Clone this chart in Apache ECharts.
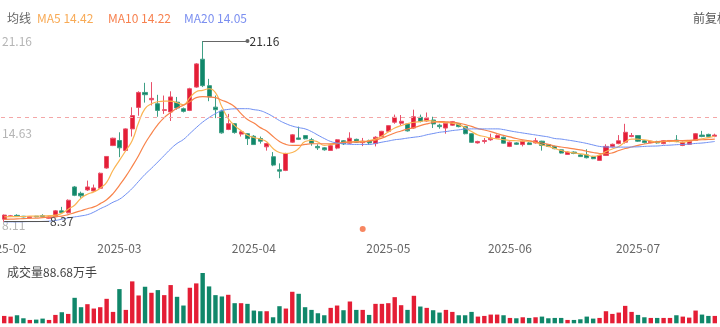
<!DOCTYPE html>
<html><head><meta charset="utf-8">
<script src="https://cdn.jsdelivr.net/npm/echarts@6/dist/echarts.min.js"></script>
<style>html,body{margin:0;padding:0;background:#fff}#c{width:720px;height:327px}</style>
</head><body><div id="c"></div>
<script>
const months = ['2025-02','2025-03','2025-04','2025-05','2025-06','2025-07'];
const monthDays = [
  [5,6,7,10,11,12,13,14,17,18,19,20,21,24,25,26,27,28],
  [3,4,5,6,7,10,11,12,13,14,17,18,19,20,21,24,25,26,27,28,31],
  [1,2,3,7,8,9,10,11,14,15,16,17,18,21,22,23,24,25,28,29,30],
  [6,7,8,9,12,13,14,15,16,19,20,21,22,23,26,27,28,29,30],
  [3,4,5,6,9,10,11,12,13,16,17,18,19,20,23,24,25,26,27,30],
  [1,2,3,4,7,8,9,10,11,14,15,16,17]
];
const opens = [8.55,8.74,8.82,8.76,8.66,8.76,8.80,8.62,8.72,9.14, 9.00,10.83,10.38,10.62,10.55,10.74,12.17,13.76,14.12,13.41, 14.94,16.46,17.52,17.00,16.72,16.25,16.14,16.83,16.37,16.25, 17.90,19.87,18.00,16.48,16.20,14.90,15.31,14.57,14.60,14.42, 14.26,13.67,12.97,12.05,12.00,14.00,14.30,14.47,14.17,13.70, 13.60,13.41,13.58,14.10,13.93,14.20,13.97,14.10,13.90,14.40, 14.77,15.41,15.34,15.29,15.00,15.76,15.50,15.57,15.20,15.00, 15.20,15.30,15.10,14.60,13.95,14.05,14.17,14.30,14.35,13.70, 13.95,13.83,13.95,13.95,14.07,13.83,13.70,13.46,13.13,13.30, 13.10,13.10,12.99,12.71,13.06,13.68,13.90,14.00,14.40,14.47, 14.10,13.97,14.05,13.90,14.05,14.15,13.77,13.85,14.12,14.50, 14.55,14.42];
const closes = [8.84,8.79,8.77,8.71,8.72,8.72,8.74,8.70,9.14,9.02, 9.89,10.24,10.20,10.83,10.76,11.80,12.99,14.28,13.60,14.94, 15.88,17.52,17.36,17.10,16.25,16.30,17.20,16.42,16.18,17.78, 19.54,18.00,17.20,16.30,14.66,15.31,14.68,14.73,14.25,13.83, 14.07,13.90,12.38,11.95,13.20,14.52,14.20,14.24,13.93,13.60, 13.46,13.75,14.17,13.88,14.28,14.00,14.07,13.95,14.35,14.77, 15.17,15.76,15.48,14.80,15.80,15.48,15.70,15.29,15.10,15.33, 15.45,15.10,14.60,13.99,14.05,14.12,14.30,14.47,13.93,14.00, 13.85,14.07,13.83,14.10,13.77,13.70,13.54,13.23,13.30,13.20, 12.98,12.90,12.83,13.06,13.70,13.85,14.10,14.70,14.47,14.07, 13.97,14.07,13.95,14.10,14.12,14.05,14.00,14.07,14.60,14.40, 14.40,14.50];
const lows = [8.37,8.70,8.72,8.68,8.63,8.68,8.66,8.58,8.68,8.95, 8.96,10.18,10.06,10.55,10.48,10.70,12.12,13.72,12.94,13.35, 14.40,15.87,16.80,16.60,15.80,16.00,15.50,16.30,16.10,16.20, 17.85,17.90,16.90,15.70,14.60,14.85,14.60,14.40,13.80,13.80, 13.90,13.40,12.30,11.45,11.95,13.95,14.15,14.20,13.75,13.45, 13.40,13.38,13.50,13.80,13.88,13.95,13.72,13.80,13.70,14.35, 14.72,15.30,15.20,14.75,14.95,15.40,15.45,15.00,14.95,14.60, 15.15,15.05,14.55,13.95,13.90,13.90,14.10,14.25,13.90,13.65, 13.80,13.70,13.80,13.90,13.40,13.65,13.50,13.20,13.10,13.15, 12.95,12.85,12.80,12.68,13.02,13.62,13.85,13.90,14.35,14.02, 13.90,13.93,13.90,13.85,14.00,14.00,13.72,13.80,14.08,14.35, 14.38,14.35];
const highs = [8.88,8.85,8.90,8.78,8.75,8.78,8.90,8.74,9.20,9.42, 9.95,10.90,10.50,11.28,11.00,11.85,13.02,14.32,14.70,14.98, 16.47,17.60,18.20,18.25,17.35,17.30,17.60,17.20,16.45,17.85, 19.60,21.16,18.48,17.30,16.30,16.00,15.35,14.85,14.65,14.50, 14.40,13.95,13.30,12.50,13.25,14.58,15.10,14.50,14.30,13.85, 13.65,13.80,14.22,14.15,14.70,14.25,14.30,14.18,14.42,14.80, 15.20,15.95,15.92,15.32,16.30,15.95,16.10,15.80,15.30,15.38, 15.50,15.35,15.15,14.65,14.10,14.30,14.60,14.55,14.40,14.05, 14.00,14.12,14.00,14.30,14.10,13.87,13.75,13.50,13.35,13.35, 13.15,13.50,13.03,13.10,13.85,13.90,14.50,15.30,14.65,14.50, 14.15,14.10,14.10,14.15,14.15,14.50,14.05,14.12,14.65,14.80, 14.60,14.60];
const volumes = [88.7,80.6,96.7,60.5,40.3,44.3,56.4,40.3,100.8,133.0, 112.8,306.3,193.4,229.7,177.3,193.4,294.2,137.0,411.0,161.2, 503.8,334.5,439.3,366.7,399.0,338.5,459.4,318.4,213.6,427.2, 479.6,604.5,443.3,338.5,322.4,342.6,241.8,241.8,233.7,153.1, 145.1,145.1,72.5,205.5,177.3,378.8,354.6,193.4,161.2,120.9, 96.7,185.4,213.6,157.2,262.0,161.2,161.2,100.8,233.7,233.7, 241.8,314.3,217.6,161.2,330.5,201.5,185.4,157.2,129.0,161.2, 137.0,96.7,96.7,137.0,80.6,88.7,104.8,104.8,96.7,64.5, 60.5,72.5,64.5,72.5,80.6,60.5,64.5,64.5,40.3,40.3, 48.4,80.6,56.4,64.5,145.1,112.8,129.0,209.6,137.0,100.8, 72.5,64.5,64.5,64.5,64.5,96.7,80.6,68.5,153.1,104.8, 88.7,88.68];
const ma5 = [8.72,8.73,8.73,8.74,8.77,8.77,8.78,8.80,8.84,8.96, 9.26,9.54,10.03,10.32,10.48,10.74,11.16,12.01,12.71,13.41, 14.12,15.39,16.37,16.72,16.86,16.90,16.90,16.79,16.65,17.15, 17.57,17.67,17.78,17.50,16.51,15.67,15.17,14.82,14.49,14.33, 14.22,14.03,13.55,13.27,13.20,13.27,13.55,14.05,14.12,14.01, 13.77,13.84,13.89,13.98,14.01,14.05,14.05,14.12,14.22,14.43, 14.72,15.00,15.17,15.31,15.41,15.46,15.53,15.49,15.42,15.39, 15.34,15.24,15.03,14.75,14.51,14.40,14.29,14.24,14.17,14.12, 14.10,14.08,14.07,13.98,13.80,13.70,13.55,13.41,13.31,13.24, 13.18,13.10,12.99,13.10,13.34,13.52,13.70,14.01,14.22,14.21, 14.17,14.08,14.01,14.03,14.07,14.03,14.00,14.08,14.15,14.24, 14.32,14.42];
const ma10 = [8.53,8.55,8.57,8.59,8.61,8.63,8.66,8.69,8.73,8.77, 8.87,9.01,9.15,9.29,9.42,9.65,9.93,10.36,10.95,11.58, 12.29,13.06,13.91,14.61,15.25,15.74,16.09,16.41,16.62,16.86, 17.15,17.22,17.20,17.15,16.97,16.79,16.51,16.02,15.60,15.35, 15.03,14.79,14.40,14.05,13.84,13.77,13.77,13.84,13.89,13.89, 13.89,13.89,13.91,13.98,14.00,14.00,14.01,14.08,14.15,14.29, 14.47,14.65,14.79,14.93,15.03,15.17,15.29,15.39,15.46,15.44, 15.41,15.35,15.24,15.12,14.96,14.86,14.75,14.61,14.48,14.37, 14.26,14.17,14.10,14.01,13.94,13.84,13.73,13.66,13.59,13.52, 13.46,13.36,13.27,13.20,13.18,13.24,13.41,13.55,13.66,13.77, 13.87,13.94,14.03,14.08,14.10,14.12,14.12,14.13,14.15,14.17, 14.20,14.22];
const ma20 = [8.36,8.36,8.36,8.37,8.38,8.38,8.39,8.41,8.46,8.55, 8.64,8.71,8.78,8.87,9.05,9.29,9.50,9.75,9.96,10.31, 10.73,11.23,11.72,12.15,12.60,13.06,13.52,13.91,14.19,14.61, 15.03,15.42,15.74,16.02,16.23,16.32,16.36,16.37,16.37,16.30, 16.23,16.05,15.81,15.53,15.31,15.14,15.03,14.94,14.75,14.50, 14.26,14.05,13.94,13.89,13.85,13.84,13.84,13.84,13.91,14.00, 14.08,14.17,14.22,14.29,14.35,14.41,14.52,14.61,14.70,14.75, 14.82,14.87,14.93,14.94,14.94,14.94,14.94,14.94,14.89,14.80, 14.72,14.65,14.58,14.51,14.44,14.37,14.26,14.22,14.15,14.08, 14.00,13.91,13.80,13.70,13.66,13.65,13.65,13.65,13.66,13.67, 13.70,13.72,13.73,13.77,13.79,13.82,13.84,13.87,13.91,13.94, 13.99,14.05];
const yTicks = [8.11, 14.63, 21.16];
const refPrice = 15.75;
const eventIndex = [56];
const eventLevel = 7.86;

const dates = [];
monthDays.forEach((ds, m) => ds.forEach(d => dates.push(months[m] + '-' + String(d).padStart(2, '0'))));
const monthStart = new Set(monthDays.map((ds, m) => months[m] + '-' + String(ds[0]).padStart(2, '0')));
const candles = opens.map((o, i) => [o, closes[i], lows[i], highs[i]]);
const UP = '#e41e35', DOWN = '#10876a';
const volData = volumes.map((v, i) => ({value: v, itemStyle: {color: closes[i] >= opens[i] ? UP : DOWN}}));
let maxI = 0, minI = 0;
highs.forEach((h, i) => { if (h > highs[maxI]) maxI = i; });
lows.forEach((l, i) => { if (l < lows[minI]) minI = i; });
const last = a => a[a.length - 1].toFixed(2);
const FONT = "'Noto Sans CJK SC','Noto Sans',sans-serif";

const chart = echarts.init(document.getElementById('c'), null, {renderer: 'canvas'});
chart.setOption({
  animation: false,
  textStyle: {fontFamily: FONT},
  title: [
    {text: '均线', left: 2, top: 7, textStyle: {fontSize: 12, fontWeight: 'normal', color: '#666', fontFamily: FONT}},
    {text: 'MA5 ' + last(ma5), left: 32, top: 7, textStyle: {fontSize: 12, fontWeight: 'normal', color: '#f8aa55', fontFamily: FONT}},
    {text: 'MA10 ' + last(ma10), left: 103, top: 7, textStyle: {fontSize: 12, fontWeight: 'normal', color: '#f7814f', fontFamily: FONT}},
    {text: 'MA20 ' + last(ma20), left: 179, top: 7, textStyle: {fontSize: 12, fontWeight: 'normal', color: '#7b8ff0', fontFamily: FONT}},
    {text: '前复权', left: 688, top: 7, textStyle: {fontSize: 12, fontWeight: 'normal', color: '#555', fontFamily: FONT}},
    {text: '成交量' + volumes[volumes.length - 1].toFixed(2) + '万手', left: 2, top: 261, textStyle: {fontSize: 12, fontWeight: 'normal', color: '#444', fontFamily: FONT}}
  ],
  grid: [
    {left: 1, right: 2, top: 41, bottom: 101.6, outerBoundsMode: 'none', containLabel: false},
    {left: 1, right: 2, top: 273, bottom: 3.7, outerBoundsMode: 'none', containLabel: false}
  ],
  xAxis: [
    {type: 'category', data: dates, gridIndex: 0, boundaryGap: true,
      axisLine: {show: false}, axisTick: {show: false}, splitLine: {show: false},
      axisLabel: {interval: (i, v) => monthStart.has(v), formatter: v => v.slice(0, 7), color: '#666', fontSize: 12, margin: 17, fontFamily: FONT, hideOverlap: false}},
    {type: 'category', data: dates, gridIndex: 1, boundaryGap: true,
      axisLine: {show: false}, axisTick: {show: false}, axisLabel: {show: false}, splitLine: {show: false}}
  ],
  yAxis: [
    {type: 'value', gridIndex: 0, min: yTicks[0], max: yTicks[2], scale: true,
      axisLine: {show: false}, axisTick: {show: false}, splitLine: {show: false},
      axisLabel: {inside: true, margin: 1, color: '#b5b5b5', fontSize: 12, customValues: yTicks, formatter: v => v.toFixed(2), fontFamily: FONT}},
    {type: 'value', gridIndex: 1, min: 0, max: 'dataMax',
      axisLine: {show: false}, axisTick: {show: false}, splitLine: {show: false}, axisLabel: {show: false}}
  ],
  series: [
    {type: 'candlestick', xAxisIndex: 0, yAxisIndex: 0, data: candles, barWidth: 4.6,
      itemStyle: {color: UP, color0: DOWN, borderColor: '#e9506a', borderColor0: '#3f9f85', borderWidth: 1},
      markLine: {silent: true, symbol: 'none', animation: false,
        data: [
          {yAxis: refPrice, lineStyle: {color: '#f4a7a7', type: [4, 4], width: 1}, label: {show: false}},
          [{coord: [dates[maxI], highs[maxI]], symbol: 'none'},
           {coord: [dates[maxI + 7], highs[maxI]], symbol: 'circle', symbolSize: 4,
            lineStyle: {color: '#666', type: 'solid', width: 1},
            label: {show: true, position: 'end', distance: 2, formatter: highs[maxI].toFixed(2), color: '#333', fontSize: 12}}],
          [{coord: [dates[minI], lows[minI]], symbol: 'none'},
           {coord: [dates[minI + 7], lows[minI]], symbol: 'none',
            lineStyle: {color: '#555', type: 'solid', width: 1},
            label: {show: true, position: 'end', distance: 1, formatter: lows[minI].toFixed(2), color: '#444', fontSize: 12}}]
        ]}
    },
    {type: 'line', name: 'MA5', data: ma5, smooth: true, symbol: 'none', lineStyle: {color: '#fbb452', width: 1.2}, z: 3},
    {type: 'line', name: 'MA10', data: ma10, smooth: true, symbol: 'none', lineStyle: {color: '#f8834a', width: 1.2}, z: 3},
    {type: 'line', name: 'MA20', data: ma20, smooth: true, symbol: 'none', lineStyle: {color: '#6e8ef2', width: 1}, z: 3},
    {type: 'scatter', data: eventIndex.map(i => [dates[i], eventLevel]), symbolSize: 6, clip: false, itemStyle: {color: '#f5683a'}},
    {type: 'bar', xAxisIndex: 1, yAxisIndex: 1, data: volData, barWidth: 4.4}
  ]
});
</script></body></html>
